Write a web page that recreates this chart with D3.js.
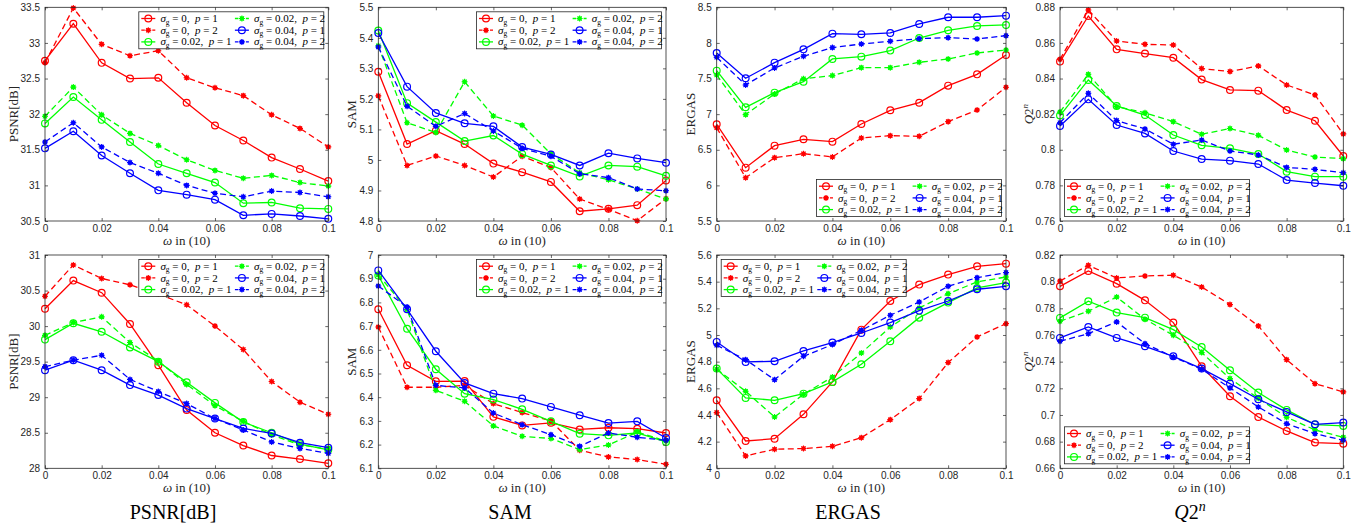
<!DOCTYPE html>
<html>
<head>
<meta charset="utf-8">
<script src="https://cdn.jsdelivr.net/npm/d3@7"></script>
<style>
  body { margin: 0; background: #fff; }
  svg { display: block; }
</style>
</head>
<body>
<div id="chart"></div>
<script>
// x values (omega) and the six parameter settings
const omega = [0, 0.01, 0.02, 0.03, 0.04, 0.05, 0.06, 0.07, 0.08, 0.09, 0.1];
const xTicks = [0, 0.02, 0.04, 0.06, 0.08, 0.1];
const seriesSigma = ["0", "0", "0.02", "0.02", "0.04", "0.04"];
const seriesP = [1, 2, 1, 2, 1, 2];
const seriesColors = ["#ff0000", "#ff0000", "#00ff00", "#00ff00", "#0000ff", "#0000ff"];

// top row
const psnrA = [
  [32.75, 33.27, 32.72, 32.50, 32.51, 32.16, 31.84, 31.63, 31.39, 31.23, 31.06],
  [32.72, 33.49, 32.98, 32.82, 32.89, 32.51, 32.37, 32.26, 31.99, 31.80, 31.54],
  [31.87, 32.24, 31.92, 31.61, 31.30, 31.17, 31.04, 30.75, 30.76, 30.68, 30.67],
  [31.97, 32.38, 31.99, 31.73, 31.56, 31.36, 31.21, 31.10, 31.14, 31.04, 30.99],
  [31.52, 31.76, 31.42, 31.17, 30.93, 30.87, 30.80, 30.58, 30.60, 30.57, 30.53],
  [31.61, 31.88, 31.54, 31.32, 31.17, 31.00, 30.89, 30.84, 30.92, 30.90, 30.84]
];
const samA = [
  [5.289, 5.052, 5.096, 5.052, 4.988, 4.960, 4.928, 4.832, 4.840, 4.852, 4.933],
  [5.210, 4.982, 5.013, 4.982, 4.944, 5.012, 4.975, 4.872, 4.838, 4.801, 4.873],
  [5.424, 5.186, 5.124, 5.062, 5.080, 5.019, 4.982, 4.946, 4.982, 4.978, 4.948],
  [5.374, 5.122, 5.090, 5.256, 5.144, 5.114, 5.020, 4.958, 4.935, 4.905, 4.872],
  [5.416, 5.240, 5.154, 5.120, 5.110, 5.042, 5.018, 4.982, 5.022, 5.005, 4.991],
  [5.370, 5.176, 5.110, 5.152, 5.095, 5.038, 5.012, 4.955, 4.942, 4.905, 4.899]
];
const ergasA = [
  [6.857, 6.249, 6.558, 6.647, 6.614, 6.862, 7.054, 7.161, 7.400, 7.559, 7.831],
  [6.810, 6.108, 6.389, 6.445, 6.399, 6.665, 6.698, 6.689, 6.895, 7.058, 7.377],
  [7.611, 7.096, 7.302, 7.456, 7.775, 7.807, 7.892, 8.069, 8.177, 8.238, 8.252],
  [7.550, 6.993, 7.283, 7.498, 7.541, 7.653, 7.653, 7.728, 7.775, 7.859, 7.901],
  [7.859, 7.503, 7.723, 7.910, 8.130, 8.121, 8.140, 8.266, 8.360, 8.360, 8.383],
  [7.798, 7.410, 7.648, 7.812, 7.934, 7.985, 8.023, 8.060, 8.074, 8.055, 8.102]
];
const q2nA = [
  [0.8495, 0.8751, 0.8564, 0.8540, 0.8517, 0.8394, 0.8336, 0.8332, 0.8223, 0.8163, 0.7965],
  [0.8508, 0.8785, 0.8611, 0.8592, 0.8588, 0.8456, 0.8439, 0.8471, 0.8364, 0.8308, 0.8089],
  [0.8192, 0.8392, 0.8246, 0.8195, 0.8083, 0.8025, 0.8008, 0.7976, 0.7877, 0.7849, 0.7849],
  [0.8212, 0.8424, 0.8242, 0.8208, 0.8158, 0.8087, 0.8119, 0.8081, 0.7999, 0.7959, 0.7950],
  [0.8134, 0.8283, 0.8139, 0.8092, 0.7993, 0.7948, 0.7939, 0.7920, 0.7830, 0.7813, 0.7798],
  [0.8152, 0.8317, 0.8164, 0.8117, 0.8031, 0.8055, 0.7993, 0.7971, 0.7901, 0.7890, 0.7871]
];

// bottom row
const psnrB = [
  [30.245, 30.64, 30.47, 30.03, 29.45, 28.82, 28.50, 28.32, 28.18, 28.13, 28.07],
  [30.42, 30.86, 30.67, 30.58, 30.45, 30.30, 30.00, 29.67, 29.22, 28.93, 28.76],
  [29.81, 30.04, 29.92, 29.70, 29.50, 29.21, 28.92, 28.65, 28.50, 28.34, 28.26],
  [29.87, 30.05, 30.13, 29.77, 29.51, 29.18, 28.88, 28.66, 28.47, 28.33, 28.27],
  [29.38, 29.52, 29.38, 29.17, 29.03, 28.84, 28.70, 28.56, 28.49, 28.36, 28.29],
  [29.43, 29.52, 29.59, 29.25, 29.08, 28.91, 28.70, 28.54, 28.37, 28.28, 28.21]
];
const samB = [
  [6.771, 6.535, 6.467, 6.468, 6.317, 6.281, 6.292, 6.264, 6.271, 6.267, 6.249],
  [6.696, 6.442, 6.442, 6.450, 6.373, 6.335, 6.300, 6.176, 6.148, 6.137, 6.117],
  [6.914, 6.689, 6.518, 6.415, 6.390, 6.349, 6.298, 6.246, 6.239, 6.249, 6.211],
  [6.917, 6.770, 6.429, 6.383, 6.279, 6.235, 6.226, 6.179, 6.198, 6.253, 6.215],
  [6.935, 6.771, 6.594, 6.460, 6.415, 6.394, 6.359, 6.324, 6.291, 6.298, 6.228],
  [6.869, 6.781, 6.450, 6.439, 6.333, 6.284, 6.242, 6.193, 6.249, 6.231, 6.218]
];
const ergasB = [
  [4.510, 4.205, 4.222, 4.405, 4.648, 5.040, 5.255, 5.378, 5.453, 5.515, 5.535],
  [4.418, 4.093, 4.143, 4.148, 4.165, 4.230, 4.365, 4.523, 4.793, 4.985, 5.085],
  [4.748, 4.528, 4.510, 4.560, 4.648, 4.780, 4.953, 5.130, 5.243, 5.353, 5.393],
  [4.743, 4.578, 4.385, 4.555, 4.685, 4.865, 5.060, 5.203, 5.310, 5.398, 5.435],
  [4.948, 4.798, 4.803, 4.880, 4.943, 5.015, 5.093, 5.183, 5.255, 5.343, 5.365],
  [4.923, 4.815, 4.665, 4.840, 4.928, 5.035, 5.148, 5.248, 5.365, 5.430, 5.468]
];
const q2nB = [
  [0.7965, 0.8080, 0.7985, 0.7860, 0.7693, 0.7365, 0.7140, 0.6985, 0.6880, 0.6793, 0.6785],
  [0.8005, 0.8123, 0.8028, 0.8043, 0.8048, 0.7960, 0.7828, 0.7668, 0.7415, 0.7235, 0.7173],
  [0.7728, 0.7853, 0.7768, 0.7730, 0.7640, 0.7510, 0.7335, 0.7168, 0.7038, 0.6928, 0.6918],
  [0.7703, 0.7778, 0.7885, 0.7718, 0.7598, 0.7468, 0.7273, 0.7125, 0.6983, 0.6888, 0.6833],
  [0.7578, 0.7660, 0.7578, 0.7515, 0.7440, 0.7348, 0.7235, 0.7118, 0.7023, 0.6930, 0.6943],
  [0.7553, 0.7610, 0.7698, 0.7535, 0.7435, 0.7343, 0.7203, 0.7060, 0.6935, 0.6860, 0.6810]
];

// y tick values
const psnrTicksA = [30.5, 31, 31.5, 32, 32.5, 33, 33.5];
const samTicksA = [4.8, 4.9, 5, 5.1, 5.2, 5.3, 5.4, 5.5];
const ergasTicksA = [5.5, 6, 6.5, 7, 7.5, 8, 8.5];
const q2nTicksA = [0.76, 0.78, 0.8, 0.82, 0.84, 0.86, 0.88];
const psnrTicksB = [28, 28.5, 29, 29.5, 30, 30.5, 31];
const samTicksB = [6.1, 6.2, 6.3, 6.4, 6.5, 6.6, 6.7, 6.8, 6.9, 7];
const ergasTicksB = [4, 4.2, 4.4, 4.6, 4.8, 5, 5.2, 5.4, 5.6];
const q2nTicksB = [0.66, 0.68, 0.7, 0.72, 0.74, 0.76, 0.78, 0.8, 0.82];

const metricNames = ["PSNR[dB]", "SAM", "ERGAS", "Q2n"];

// layout
const W = 1359, H = 529;
const colX = [[45, 328.3], [378.3, 666], [716.7, 1006], [1060, 1343.3]];
const rowY = [[7.3, 221], [255, 468.3]];
const titleX = [173, 510, 848, 1190];
const axisColor = "#262626";
const serif = "'Liberation Serif', 'Times New Roman', serif";
const sans = "'Liberation Sans', Arial, Helvetica, sans-serif";

const panels = [
  { row: 0, col: 0, data: psnrA, ticks: psnrTicksA, legend: "ne" },
  { row: 0, col: 1, data: samA, ticks: samTicksA, legend: "ne" },
  { row: 0, col: 2, data: ergasA, ticks: ergasTicksA, legend: "se" },
  { row: 0, col: 3, data: q2nA, ticks: q2nTicksA, legend: "sw" },
  { row: 1, col: 0, data: psnrB, ticks: psnrTicksB, legend: "ne" },
  { row: 1, col: 1, data: samB, ticks: samTicksB, legend: "ne" },
  { row: 1, col: 2, data: ergasB, ticks: ergasTicksB, legend: "nw" },
  { row: 1, col: 3, data: q2nB, ticks: q2nTicksB, legend: "sw" }
];

const svg = d3.select("#chart").append("svg")
  .attr("width", W)
  .attr("height", H)
  .attr("viewBox", `0 0 ${W} ${H}`);

const asterisk = (r) => {
  const d = r * Math.SQRT1_2;
  return `M${-r},0L${r},0M0,${-r}L0,${r}M${-d},${-d}L${d},${d}M${-d},${d}L${d},${-d}`;
};

const drawMarker = (g, p, color, cx, cy) => {
  if (p === 1) {
    g.append("circle")
      .attr("cx", cx).attr("cy", cy).attr("r", 3.4)
      .attr("fill", "none").attr("stroke", color).attr("stroke-width", 1.2);
  } else {
    g.append("circle")
      .attr("cx", cx).attr("cy", cy).attr("r", 2.3)
      .attr("fill", color);
    g.append("path")
      .attr("transform", `translate(${cx},${cy})`)
      .attr("d", asterisk(3))
      .attr("stroke", color).attr("stroke-width", 1.1).attr("fill", "none");
  }
};

// sigma_g = .., p = .. as LaTeX-like text
const legendLabel = (text, sigma, p) => {
  text.append("tspan").attr("font-style", "italic").text("σ");
  text.append("tspan").attr("font-size", 7.5).attr("dy", 2.5).text("g");
  text.append("tspan").attr("dy", -2.5).text(` = ${sigma},  `);
  text.append("tspan").attr("font-style", "italic").text("p");
  text.append("tspan").text(` = ${p}`);
};

const q2nLabel = (text, size) => {
  text.append("tspan").attr("font-style", "italic").text("Q");
  text.append("tspan").text("2");
  text.append("tspan").attr("font-style", "italic")
    .attr("font-size", size * 0.7).attr("dy", -size * 0.38).text("n");
};

panels.forEach(pn => {
  const [x0, x1] = colX[pn.col];
  const [y0, y1] = rowY[pn.row];
  const x = d3.scaleLinear().domain([0, 0.1]).range([x0, x1]);
  const y = d3.scaleLinear().domain(d3.extent(pn.ticks)).range([y1, y0]);
  const g = svg.append("g");

  // series
  pn.data.forEach((vals, i) => {
    const pts = omega.map((w, j) => [w, vals[j]]);
    const line = d3.line().x(d => x(d[0])).y(d => y(d[1]));
    g.append("path")
      .datum(pts)
      .attr("fill", "none")
      .attr("stroke", seriesColors[i])
      .attr("stroke-width", 1.3)
      .attr("stroke-dasharray", seriesP[i] === 2 ? "6,3.5" : null)
      .attr("d", line);
    pts.forEach(d => drawMarker(g, seriesP[i], seriesColors[i], x(d[0]), y(d[1])));
  });

  // axes, ticks pointing inside, mirrored on top and right
  const fmt = d => String(d);
  const yAx = g.append("g").attr("transform", `translate(${x0},0)`)
    .call(d3.axisLeft(y).tickValues(pn.ticks).tickSize(-3).tickPadding(5).tickFormat(fmt));
  g.append("g").attr("transform", `translate(${x1},0)`)
    .call(d3.axisRight(y).tickValues(pn.ticks).tickSize(-3).tickFormat(""));
  g.append("g").attr("transform", `translate(0,${y1})`)
    .call(d3.axisBottom(x).tickValues(xTicks).tickSize(-3).tickPadding(4).tickFormat(fmt));
  g.append("g").attr("transform", `translate(0,${y0})`)
    .call(d3.axisTop(x).tickValues(xTicks).tickSize(-3).tickFormat(""));
  g.selectAll(".domain").remove();
  g.selectAll(".tick line").attr("stroke", axisColor).attr("stroke-width", 0.7);
  g.selectAll(".tick text").attr("fill", axisColor)
    .style("font-family", sans).style("font-size", "10px");

  g.append("rect")
    .attr("x", x0).attr("y", y0)
    .attr("width", x1 - x0).attr("height", y1 - y0)
    .attr("fill", "none").attr("stroke", axisColor).attr("stroke-width", 0.8);

  // axis labels
  let maxW = 0;
  yAx.selectAll(".tick text").each(function () {
    maxW = Math.max(maxW, this.getComputedTextLength());
  });
  const ylab = g.append("text")
    .attr("transform", `translate(${x0 - 5 - maxW - 3},${(y0 + y1) / 2}) rotate(-90)`)
    .attr("text-anchor", "middle")
    .attr("fill", axisColor)
    .style("font-family", serif).style("font-size", "13px");
  if (pn.col === 3) q2nLabel(ylab, 13);
  else ylab.text(metricNames[pn.col]);

  const xlab = g.append("text")
    .attr("x", (x0 + x1) / 2).attr("y", y1 + 23.5)
    .attr("text-anchor", "middle")
    .attr("fill", axisColor)
    .style("font-family", serif).style("font-size", "13px")
    .style("white-space", "pre");
  xlab.append("tspan").attr("font-style", "italic").text("ω");
  xlab.append("tspan").text(" in (10)");

  // legend
  const lw = 185, lh = 37, inset = 4.5;
  const lx = pn.legend.includes("e") ? x1 - inset - lw : x0 + inset;
  const ly = pn.legend.includes("n") ? y0 + inset : y1 - inset - lh;
  const lg = g.append("g").attr("transform", `translate(${lx},${ly})`);
  lg.append("rect")
    .attr("width", lw).attr("height", lh)
    .attr("fill", "#fff").attr("stroke", axisColor).attr("stroke-width", 0.8);
  seriesColors.forEach((c, i) => {
    const cx = Math.floor(i / 3) * 93.6;
    const ry = 6.7 + (i % 3) * 11.7;
    lg.append("line")
      .attr("x1", cx + 2.5).attr("x2", cx + 16.5)
      .attr("y1", ry).attr("y2", ry)
      .attr("stroke", c).attr("stroke-width", 1.3)
      .attr("stroke-dasharray", seriesP[i] === 2 ? "3.5,2" : null);
    drawMarker(lg, seriesP[i], c, cx + 9.5, ry);
    const t = lg.append("text")
      .attr("x", cx + 21.6).attr("y", ry + 3.6)
      .attr("fill", "#000")
      .style("font-family", serif).style("font-size", "11px")
      .style("white-space", "pre");
    legendLabel(t, seriesSigma[i], seriesP[i]);
  });
});

// column titles under the bottom row
metricNames.forEach((name, i) => {
  const t = svg.append("text")
    .attr("x", titleX[i]).attr("y", 519)
    .attr("text-anchor", "middle")
    .attr("fill", "#000")
    .style("font-family", serif).style("font-size", "20px");
  if (i === 3) q2nLabel(t, 20);
  else t.text(name);
});
</script>
</body>
</html>
